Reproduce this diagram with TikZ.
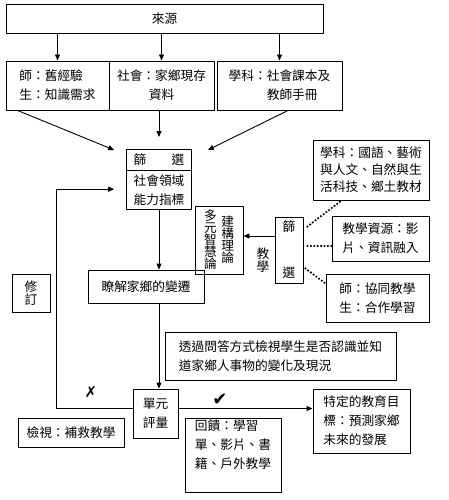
\documentclass[tikz,border=0pt]{standalone}
\usepackage{fontspec}
\setmainfont{Noto Sans CJK TC}
\newfontfamily\symfont{DejaVu Sans}
\usetikzlibrary{calc,shapes.multipart,arrows.meta,positioning}
\tikzset{
    box/.style={
        draw,line width=.9pt,
        inner sep=0pt,align=left,
        font=\fontsize{12.7}{19}\selectfont
    },
    vbox/.style={
        box,align=center,
        font=\fontsize{12.7}{13}\selectfont
    },
    dots/.style={
        line width=2.4pt,line cap=round,
        dash pattern=on 0pt off 3.4pt
    },
    >={Triangle[length=6pt,width=5pt]}
}
\begin{document}
\begin{tikzpicture}[x=1pt,y=-1pt,line width=.9pt]
\useasboundingbox (0,0) rectangle (448,500);
% sources
\node[box,minimum width=317,minimum height=29] (src) at (164.5,18.5) {來源};
\node[box,minimum width=103,minimum height=49] (tch) at (57.5,85.5) {師：舊經驗\\生：知識需求};
\node[box,minimum width=105,minimum height=49,align=center] (soc) at (161.5,85.5) {社會：家鄉現存\\資料};
\node[box,minimum width=125,minimum height=49,align=center] (subj) at (279.5,85.5) {學科：社會課本及\\\hspace{2em}教師手冊};
\foreach \n in {tch,soc,subj}
    \draw[->] (\n |- src.south) -- (\n.north);
% selection
\node[box,rectangle split,rectangle split parts=2,inner xsep=7pt,inner ysep=4pt,align=center,anchor=north] (sel) at (159,149)
    {篩　　選\nodepart{two}社會領域\\能力指標};
\coordinate (selin1) at ($(sel.north west)+(-12,1)$);
\coordinate (selin2) at ($(sel.west)+(-12,9.5)$);
\coordinate (selin3) at ($(sel.north east)+(16,1)$);
\coordinate (soctip) at ($(sel.north)+(0,-12)$);
\draw[->] ($(tch.south west)+(12,0)$) -- (selin1);
\draw[->] (soc.south -| soctip) -- (soctip);
\draw[->] ($(subj.south)+(8.5,0)$) -- (selin3);
% middle
\node[box,minimum width=116,minimum height=33] (chg) at (146,286.5) {瞭解家鄉的變遷};
\draw[->] (sel.south) -- (sel.south |- chg.north);
\node[vbox,minimum width=48,minimum height=68,font=\fontsize{12.7}{12}\selectfont] (thy) at (219,240)
    {\parbox[c]{12.7pt}{\centering 多\\元\\智\\慧\\論}\hspace{4.5pt}\parbox[c]{12.7pt}{\centering 建\\構\\理\\論}};
\node[vbox,minimum width=28,minimum height=66,font=\fontsize{12.7}{46}\selectfont] (sel2) at (289,250) {篩\\選};
\node[font=\fontsize{12.7}{12.5}\selectfont,align=center,inner sep=0pt] (teach) at (263,260) {教\\學};
\draw[->] ($(sel2.west)+(0,-14)$) -- ($(thy.east)+(0,-4)$);
\node[box,minimum width=116,minimum height=60,font=\fontsize{12.7}{17}\selectfont] (subjR) at (371,170)
    {學科：國語、藝術\\與人文、自然與生\\活科技、鄉土教材};
\node[box,minimum width=97,minimum height=45] (res) at (380.5,238.5) {教學資源：影\\片、資訊融入};
\node[box,minimum width=103,minimum height=48] (co) at (377.5,298) {師：協同教學\\生：合作學習};
\draw[dots] ($(sel2.north east)+(4,10)$) -- ($(subjR.south west)+(29,0)$);
\draw[dots] ($(sel2.east)+(4,-4)$) -- ($(sel2.east)+(30,-4)$);
\draw[dots] ($(sel2.south east)+(2,-15)$) -- ($(co.north west)+(0,10)$);
\node[vbox,minimum width=38,minimum height=38] (rev) at (31,293) {修\\訂};
% evaluation
\node[box,minimum width=231,minimum height=48] (ask) at (280.5,356)
    {透過問答方式檢視學生是否認識並知\\道家鄉人事物的變化及現況};
\node[box,minimum width=45,minimum height=49,align=center] (eval) at (155.5,413.5) {單元\\評量};
\draw[->] (chg.south -| sel.south) -- (sel.south |- eval.north);
\node[box,minimum width=97,minimum height=64] (goal) at (361.5,421) {特定的教育目\\標：預測家鄉\\未來的發展};
\node[box,minimum width=96,minimum height=74] (fb) at (233,455) {回饋：學習\\單、影片、書\\籍、戶外教學\\[2pt]\mbox{}};
\node[box,minimum width=106,minimum height=29] (chk) at (71,432.5) {檢視：補救教學};
\coordinate (evl) at ($(eval.west)+(0,-5)$);
\coordinate (evr) at ($(eval.east)+(0,-5)$);
\draw[->] (evl) -| ($(selin2)+(-58,0)$) -- (selin2);
\draw[->] (evr) -- (evr -| goal.west);
\node[font=\symfont\fontsize{15}{15}\selectfont,inner sep=0pt] (nomark) at (91,392) {✗};
\node[font=\symfont\fontsize{18}{18}\selectfont,inner sep=0pt] (okmark) at (220,400) {✔};
\end{tikzpicture}
\end{document}
